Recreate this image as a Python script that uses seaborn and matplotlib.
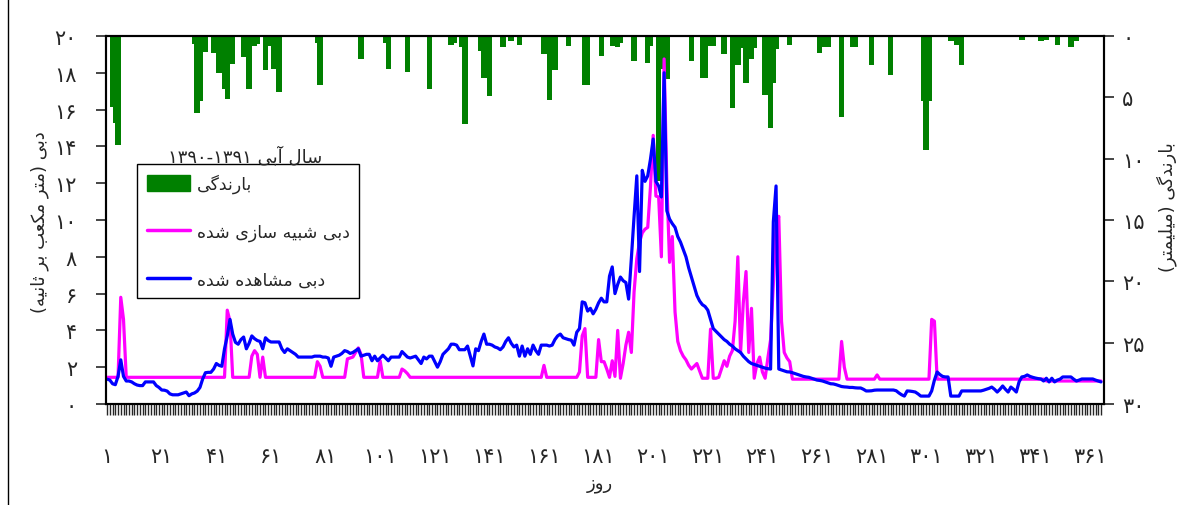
import re
import matplotlib
matplotlib.use("Agg")
import matplotlib.pyplot as plt
from matplotlib.patches import Patch
from matplotlib.lines import Line2D
import numpy as np
import seaborn as sns

sns.set_style("ticks")
plt.rcParams["font.family"] = ["DejaVu Sans"]
plt.rcParams["axes.linewidth"] = 1.5

# daily discharge, m3/s (hydrological year 1390-1391)
observed = [
    1.35, 1.3, 1.1, 1.05, 1.5, 2.4, 1.5, 1.25, 1.25, 1.2,
    1.1, 1.03, 1.0, 1.0, 1.2, 1.2, 1.2, 1.2, 1.0, 0.9,
    0.76, 0.75, 0.7, 0.55, 0.5, 0.5, 0.5, 0.55, 0.6, 0.65,
    0.45, 0.55, 0.6, 0.7, 0.9, 1.36, 1.7, 1.72, 1.72, 1.9,
    2.2, 2.1, 2.05, 3.0, 3.7, 4.6, 3.8, 3.35, 3.25, 3.5,
    3.64, 3.0, 3.3, 3.7, 3.55, 3.45, 3.4, 3.0, 3.6, 3.45,
    3.37, 3.37, 3.37, 3.37, 3.0, 2.8, 3.0, 2.9, 2.8, 2.7,
    2.55, 2.55, 2.55, 2.55, 2.55, 2.55, 2.6, 2.6, 2.6, 2.55,
    2.55, 2.5, 2.05, 2.55, 2.6, 2.65, 2.75, 2.9, 2.85, 2.75,
    2.8, 2.9, 3.0, 2.6, 2.65, 2.7, 2.7, 2.35, 2.6, 2.35,
    2.5, 2.65, 2.5, 2.35, 2.55, 2.55, 2.55, 2.55, 2.85, 2.7,
    2.55, 2.5, 2.55, 2.6, 2.4, 2.2, 2.55, 2.45, 2.6, 2.6,
    2.3, 2.0, 2.3, 2.7, 2.85, 3.0, 3.25, 3.25, 3.2, 2.95,
    2.95, 2.95, 3.15, 2.6, 2.07, 3.0, 2.9, 3.4, 3.8, 3.25,
    3.25, 3.2, 3.1, 3.05, 2.95, 3.1, 3.4, 3.6, 3.3, 3.1,
    3.2, 2.6, 3.15, 2.6, 3.0, 2.7, 3.2, 2.9, 2.7, 3.2,
    3.2, 3.2, 3.15, 3.2, 3.5, 3.7, 3.8, 3.6, 3.55, 3.5,
    3.47, 3.2, 3.9, 4.1, 5.55, 5.5, 5.05, 5.2, 4.9, 5.15,
    5.5, 5.75, 5.55, 5.55, 6.95, 7.45, 6.0, 6.5, 6.9, 6.7,
    6.6, 5.7, 7.9, 10.2, 12.4, 7.2, 12.7, 12.1, 12.4, 13.3,
    14.4, 12.1, 11.85, 11.25, 18.0, 10.5, 10.05, 9.8, 9.6, 9.1,
    8.8, 8.4, 8.0, 7.4, 6.9, 6.4, 5.9, 5.6, 5.4, 5.3,
    5.1, 4.6, 4.1, 3.95, 3.8, 3.65, 3.5, 3.4, 3.25, 3.15,
    3.0, 2.9, 2.8, 2.6, 2.45, 2.3, 2.2, 2.15, 2.1, 2.05,
    2.0, 1.95, 1.92, 1.9, 9.9, 11.85, 1.9, 1.85, 1.8, 1.75,
    1.74, 1.7, 1.65, 1.6, 1.55, 1.5, 1.47, 1.45, 1.4, 1.35,
    1.3, 1.28, 1.25, 1.2, 1.15, 1.1, 1.09, 1.05, 1.0, 0.95,
    0.93, 0.92, 0.9, 0.9, 0.88, 0.87, 0.87, 0.8, 0.71, 0.71,
    0.72, 0.75, 0.76, 0.76, 0.76, 0.76, 0.76, 0.76, 0.76, 0.72,
    0.6, 0.5, 0.43, 0.71, 0.7, 0.68, 0.65, 0.55, 0.43, 0.43,
    0.43, 0.43, 0.71, 1.3, 1.74, 1.6, 1.5, 1.47, 1.47, 0.43,
    0.43, 0.43, 0.43, 0.71, 0.71, 0.71, 0.71, 0.71, 0.71, 0.71,
    0.71, 0.75, 0.8, 0.85, 0.92, 0.8, 0.65, 0.8, 0.98, 0.8,
    0.65, 0.92, 0.8, 0.65, 1.2, 1.47, 1.5, 1.58, 1.5, 1.45,
    1.41, 1.38, 1.36, 1.25, 1.4, 1.2, 1.4, 1.2, 1.3, 1.35,
    1.47, 1.47, 1.47, 1.47, 1.35, 1.25, 1.3, 1.36, 1.36, 1.36,
    1.36, 1.36, 1.3, 1.25, 1.2,
]

simulated = [
    1.45, 1.45, 1.45, 1.45, 1.45, 5.8, 4.6, 1.45, 1.45, 1.45,
    1.45, 1.45, 1.45, 1.45, 1.45, 1.45, 1.45, 1.45, 1.45, 1.45,
    1.45, 1.45, 1.45, 1.45, 1.45, 1.45, 1.45, 1.45, 1.45, 1.45,
    1.45, 1.45, 1.45, 1.45, 1.45, 1.45, 1.45, 1.45, 1.45, 1.45,
    1.45, 1.45, 1.45, 1.45, 5.1, 4.5, 1.45, 1.45, 1.45, 1.45,
    1.45, 1.45, 1.45, 2.6, 2.9, 2.7, 1.45, 2.55, 1.45, 1.45,
    1.45, 1.45, 1.45, 1.45, 1.45, 1.45, 1.45, 1.45, 1.45, 1.45,
    1.45, 1.45, 1.45, 1.45, 1.45, 1.45, 1.45, 2.3, 2.05, 1.45,
    1.45, 1.45, 1.45, 1.45, 1.45, 1.45, 1.45, 1.45, 2.45, 2.5,
    2.55, 2.8, 3.05, 2.7, 1.45, 1.45, 1.45, 1.45, 1.45, 1.45,
    2.35, 1.45, 1.45, 1.45, 1.45, 1.45, 1.45, 1.45, 1.9, 1.8,
    1.65, 1.45, 1.45, 1.45, 1.45, 1.45, 1.45, 1.45, 1.45, 1.45,
    1.45, 1.45, 1.45, 1.45, 1.45, 1.45, 1.45, 1.45, 1.45, 1.45,
    1.45, 1.45, 1.45, 1.45, 1.45, 1.45, 1.45, 1.45, 1.45, 1.45,
    1.45, 1.45, 1.45, 1.45, 1.45, 1.45, 1.45, 1.45, 1.45, 1.45,
    1.45, 1.45, 1.45, 1.45, 1.45, 1.45, 1.45, 1.45, 1.45, 1.45,
    2.1, 1.45, 1.45, 1.45, 1.45, 1.45, 1.45, 1.45, 1.45, 1.45,
    1.45, 1.45, 1.45, 1.74, 3.7, 4.1, 1.45, 1.45, 1.45, 1.45,
    3.5, 2.3, 2.3, 1.9, 1.45, 2.35, 1.5, 4.0, 1.4, 2.2,
    3.2, 3.9, 2.8, 6.1, 7.9, 8.8, 9.3, 9.5, 9.6, 11.8,
    14.6, 11.3, 11.25, 8.0, 18.75, 12.0, 7.7, 9.1, 5.0, 3.4,
    2.9, 2.6, 2.4, 2.1, 1.9, 2.05, 2.2, 1.8, 1.4, 1.4,
    1.4, 4.07, 1.4, 1.4, 1.45, 1.9, 2.35, 2.05, 2.6, 2.9,
    4.5, 8.0, 2.8, 5.5, 7.2, 2.8, 5.2, 1.4, 2.2, 2.55,
    1.74, 1.4, 2.5, 3.5, 6.5, 9.7, 10.2, 4.5, 2.8, 2.5,
    2.3, 1.35, 1.35, 1.35, 1.35, 1.35, 1.35, 1.35, 1.35, 1.35,
    1.35, 1.35, 1.35, 1.35, 1.35, 1.35, 1.35, 1.35, 1.35, 3.4,
    2.0, 1.35, 1.35, 1.35, 1.35, 1.35, 1.35, 1.35, 1.35, 1.35,
    1.35, 1.35, 1.58, 1.35, 1.35, 1.35, 1.35, 1.35, 1.35, 1.35,
    1.35, 1.35, 1.35, 1.35, 1.35, 1.35, 1.35, 1.35, 1.35, 1.35,
    1.35, 1.35, 4.6, 4.5, 1.35, 1.35, 1.35, 1.35, 1.35, 1.35,
    1.35, 1.35, 1.35, 1.35, 1.35, 1.35, 1.35, 1.35, 1.35, 1.35,
    1.35, 1.35, 1.35, 1.35, 1.35, 1.35, 1.35, 1.35, 1.35, 1.35,
    1.35, 1.35, 1.35, 1.35, 1.35, 1.35, 1.35, 1.35, 1.35, 1.35,
    1.35, 1.35, 1.35, 1.35, 1.25, 1.25, 1.25, 1.25, 1.25, 1.25,
    1.25, 1.25, 1.25, 1.25, 1.25, 1.25, 1.25, 1.25, 1.25, 1.25,
    1.25, 1.25, 1.25, 1.25, 1.25,
]

# daily rainfall, mm (only rainy days)
rain_day = [3, 4, 5, 33, 34, 35, 36, 37, 40, 42, 43, 44, 45, 46, 47,
            51, 52, 53, 54, 55, 56, 59, 60, 62, 64, 78, 79, 94, 103, 104,
            111, 119, 127, 128, 131, 132, 138, 139, 140, 141, 146, 149, 152,
            161, 163, 165, 170, 176, 177, 182, 186, 187, 188, 189, 194, 199,
            200, 203, 204, 205, 206, 215, 219, 220, 221, 222, 223, 227, 230,
            232, 233, 234, 235, 236, 237, 238, 242, 243, 244, 245, 246, 251,
            262, 263, 264, 265, 270, 274, 275, 281, 288, 300, 301, 302, 310,
            312, 313, 314, 336, 343, 345, 349, 354, 356]
rain_mm = [5.8, 7.1, 8.9, 0.65, 6.3, 5.3, 1.3, 1.3, 1.4, 3.0, 3.0, 4.3, 5.1, 2.3, 2.3,
           1.7, 1.7, 4.3, 0.8, 0.8, 0.65, 2.8, 0.8, 2.7, 4.6, 0.6, 4.0, 1.9, 0.6, 2.7,
           2.9, 4.3, 0.7, 0.6, 0.9, 7.2, 1.2, 3.4, 1.0, 4.9, 0.9, 0.4, 0.7,
           1.5, 5.2, 2.8, 0.8, 4.0, 4.0, 1.6, 0.8, 0.8, 0.9, 0.6, 2.0, 2.2,
           0.8, 11.8, 2.7, 1.0, 3.5, 2.0, 3.4, 3.4, 0.8, 0.8, 0.8, 1.5, 5.9,
           2.4, 0.8, 1.0, 3.8, 1.0, 1.9, 1.0, 4.8, 4.8, 7.5, 3.8, 1.1, 0.7,
           1.4, 0.9, 0.9, 0.9, 6.6, 0.9, 0.9, 2.4, 3.2, 5.3, 9.3, 5.3, 0.4,
           0.7, 0.7, 2.4, 0.3, 0.4, 0.3, 0.7, 0.9, 0.4]

days = np.arange(1, len(observed) + 1)
x_ticks = list(range(1, 362, 20))
q_ticks = list(range(0, 21, 2))
p_ticks = list(range(0, 31, 5))

# --- minimal Persian shaping (matplotlib has no RTL/joining support) ---
FORMS = {
    'ا': ('\ufe8d', '\ufe8e', None, None), 'آ': ('\ufe81', '\ufe82', None, None),
    'ب': ('\ufe8f', '\ufe90', '\ufe91', '\ufe92'), 'ت': ('\ufe95', '\ufe96', '\ufe97', '\ufe98'),
    'ث': ('\ufe99', '\ufe9a', '\ufe9b', '\ufe9c'), 'د': ('\ufea9', '\ufeaa', None, None),
    'ر': ('\ufead', '\ufeae', None, None), 'ز': ('\ufeaf', '\ufeb0', None, None),
    'س': ('\ufeb1', '\ufeb2', '\ufeb3', '\ufeb4'), 'ش': ('\ufeb5', '\ufeb6', '\ufeb7', '\ufeb8'),
    'ع': ('\ufec9', '\ufeca', '\ufecb', '\ufecc'), 'ل': ('\ufedd', '\ufede', '\ufedf', '\ufee0'),
    'م': ('\ufee1', '\ufee2', '\ufee3', '\ufee4'), 'ن': ('\ufee5', '\ufee6', '\ufee7', '\ufee8'),
    'ه': ('\ufee9', '\ufeea', '\ufeeb', '\ufeec'), 'و': ('\ufeed', '\ufeee', None, None),
    'ک': ('\ufb8e', '\ufb8f', '\ufb90', '\ufb91'), 'گ': ('\ufb92', '\ufb93', '\ufb94', '\ufb95'),
    'ی': ('\ufbfc', '\ufbfd', '\ufbfe', '\ufbff'),
}


def fa(text):
    out = []
    for i, ch in enumerate(text):
        if ch not in FORMS:
            out.append(ch)
            continue
        prev = text[i - 1] if i > 0 else ''
        nxt = text[i + 1] if i + 1 < len(text) else ''
        jp = prev in FORMS and FORMS[prev][2] is not None
        jn = nxt in FORMS and FORMS[ch][2] is not None
        iso, fin, ini, med = FORMS[ch]
        out.append(med if jp and jn else fin if jp else ini if jn else iso)
    runs = re.findall(r'[۰-۹0-9\-]+|[^۰-۹0-9\-]+', ''.join(out))
    vis = []
    for r in reversed(runs):
        if re.match(r'[۰-۹0-9\-]', r):
            vis.append(r)
        else:
            vis.append(r[::-1].translate(str.maketrans('()', ')(')))
    return ''.join(vis)


def fnum(n):
    return str(n).translate(str.maketrans('0123456789', '۰۱۲۳۴۵۶۷۸۹'))


fig = plt.figure(figsize=(11.94, 5.06), dpi=100)
ax = fig.add_axes([0.0888, 0.1996, 0.8358, 0.7273])
ax2 = ax.twinx()
ax.set_zorder(ax2.get_zorder() + 1)
ax.patch.set_visible(False)

green, magenta, blue = '#008000', '#ff00ff', '#0000ff'

ax2.bar(rain_day, rain_mm, width=2.0, color=green, linewidth=0)
sns.lineplot(x=days, y=simulated, color=magenta, lw=2.3, ax=ax)
sns.lineplot(x=days, y=observed, color=blue, lw=2.3, ax=ax)

ax.set_xlim(0.6, 366.1)
ax.set_ylim(0, 20)
ax2.set_ylim(30, 0)

ax.set_xticks(x_ticks)
ax.set_xticklabels([fnum(t) for t in x_ticks])
ax.set_xticks(days, minor=True)
ax.set_yticks(q_ticks)
ax.set_yticklabels([fnum(t) for t in q_ticks])
ax2.set_yticks(p_ticks)
ax2.set_yticklabels([fnum(t) for t in p_ticks])

ax.tick_params(axis='x', which='both', direction='out', length=8, width=1, labelsize=15, pad=22)
ax.tick_params(axis='y', direction='out', length=7, width=1.2, labelsize=15, pad=14)
ax2.tick_params(axis='y', direction='out', length=7, width=1.2, labelsize=15, pad=6)
for a in (ax, ax2):
    for s in a.spines.values():
        s.set_visible(True)
        s.set_color('black')

ax.set_xlabel(fa('روز'), fontsize=13)
ax.xaxis.label.set_va('center')
ax.xaxis.set_label_coords(0.495, -0.215)
ax.set_ylabel(fa('دبی (متر مکعب بر ثانیه)'), fontsize=13)
ax.yaxis.label.set_va('center')
ax.yaxis.set_label_coords(-0.066, 0.497)
ax2.set_ylabel(fa('بارندگی (میلیمتر)'), fontsize=13)
ax2.yaxis.label.set_va('center')
ax2.yaxis.set_label_coords(1.063, 0.538)

handles = [Patch(facecolor=green, edgecolor=green),
           Line2D([], [], color=magenta, lw=2.5),
           Line2D([], [], color=blue, lw=2.5)]
labels = [fa('بارندگی'), fa('دبی شبیه سازی شده'), fa('دبی مشاهده شده')]
leg = ax.legend(handles, labels, loc='upper left', bbox_to_anchor=(0.031, 0.652),
                borderaxespad=0, frameon=True, fancybox=False, edgecolor='black',
                framealpha=1, fontsize=12.5, handlelength=2.5, handleheight=1.0,
                labelspacing=1.7, borderpad=0.55, handletextpad=0.4)
leg.get_frame().set_linewidth(1.0)

fig.text(245 / 1194, 1 - 157 / 506, fa('سال آبی ۱۳۹۰-۱۳۹۱'), ha='center', va='center', fontsize=13)
fig.add_artist(Line2D([8 / 1194, 8 / 1194], [0, 1], color='black', lw=1, transform=fig.transFigure))

fig.savefig('out.png', dpi=100)
